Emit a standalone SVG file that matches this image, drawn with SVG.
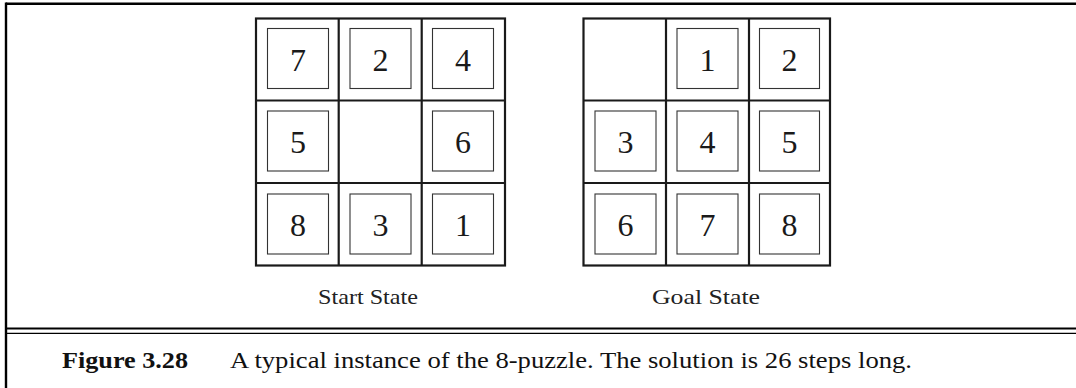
<svg xmlns="http://www.w3.org/2000/svg" width="1076" height="388" viewBox="0 0 1076 388">
<style>
.grid{fill:none;stroke:#1a1a1a;stroke-width:2.2}
.tile{fill:#fff;stroke:#333;stroke-width:1.1}
.frame{stroke:#000;fill:none}
.num{font-family:'Liberation Serif',serif;font-size:32px;fill:#1a1a1a;text-anchor:middle}
.lbl{font-family:'Liberation Serif',serif;font-size:22px;fill:#222;text-anchor:middle}
.cap{font-family:'Liberation Serif',serif;font-size:24px;fill:#111}
</style>
<rect width="1076" height="388" fill="#fff"/>
<g id="frame">
<line class="frame" x1="6" y1="3.8" x2="1076" y2="3.8" stroke-width="2.4"/>
<line class="frame" x1="6" y1="2.6" x2="6" y2="388" stroke-width="2.4"/>
<line class="frame" x1="6" y1="328.5" x2="1076" y2="328.5" stroke-width="2.2"/>
<line class="frame" x1="6" y1="333.3" x2="1076" y2="333.3" stroke-width="1.2"/>
</g>
<g id="start-state">
<rect class="grid" x="256" y="18.5" width="249" height="247"/>
<line class="grid" x1="338.7" y1="18.5" x2="338.7" y2="265.5"/>
<line class="grid" x1="421.7" y1="18.5" x2="421.7" y2="265.5"/>
<line class="grid" x1="256" y1="100.5" x2="505" y2="100.5"/>
<line class="grid" x1="256" y1="183" x2="505" y2="183"/>
<g id="s-7"><rect class="tile" x="267.5" y="28.5" width="61" height="60"/><text class="num" x="298" y="70.5">7</text></g>
<g id="s-2"><rect class="tile" x="350" y="28.5" width="61" height="60"/><text class="num" x="380.5" y="70.5">2</text></g>
<g id="s-4"><rect class="tile" x="432.5" y="28.5" width="61" height="60"/><text class="num" x="463" y="70.5">4</text></g>
<g id="s-5"><rect class="tile" x="267.5" y="111" width="61" height="60"/><text class="num" x="298" y="153">5</text></g>
<g id="s-6"><rect class="tile" x="432.5" y="111" width="61" height="60"/><text class="num" x="463" y="153">6</text></g>
<g id="s-8"><rect class="tile" x="267.5" y="194" width="61" height="60"/><text class="num" x="298" y="236">8</text></g>
<g id="s-3"><rect class="tile" x="350" y="194" width="61" height="60"/><text class="num" x="380.5" y="236">3</text></g>
<g id="s-1"><rect class="tile" x="432.5" y="194" width="61" height="60"/><text class="num" x="463" y="236">1</text></g>
<text class="lbl" x="368" y="303.5" textLength="100" lengthAdjust="spacingAndGlyphs">Start State</text>
</g>
<g id="goal-state">
<rect class="grid" x="583.5" y="18.5" width="246.5" height="247"/>
<line class="grid" x1="666" y1="18.5" x2="666" y2="265.5"/>
<line class="grid" x1="749" y1="18.5" x2="749" y2="265.5"/>
<line class="grid" x1="583.5" y1="100.5" x2="830" y2="100.5"/>
<line class="grid" x1="583.5" y1="183" x2="830" y2="183"/>
<g id="g-1"><rect class="tile" x="677" y="28.5" width="61" height="60"/><text class="num" x="707.5" y="70.5">1</text></g>
<g id="g-2"><rect class="tile" x="759.5" y="28.5" width="60" height="60"/><text class="num" x="789.5" y="70.5">2</text></g>
<g id="g-3"><rect class="tile" x="595" y="111" width="61" height="60"/><text class="num" x="625.5" y="153">3</text></g>
<g id="g-4"><rect class="tile" x="677" y="111" width="61" height="60"/><text class="num" x="707.5" y="153">4</text></g>
<g id="g-5"><rect class="tile" x="759.5" y="111" width="60" height="60"/><text class="num" x="789.5" y="153">5</text></g>
<g id="g-6"><rect class="tile" x="595" y="194" width="61" height="60"/><text class="num" x="625.5" y="236">6</text></g>
<g id="g-7"><rect class="tile" x="677" y="194" width="61" height="60"/><text class="num" x="707.5" y="236">7</text></g>
<g id="g-8"><rect class="tile" x="759.5" y="194" width="60" height="60"/><text class="num" x="789.5" y="236">8</text></g>
<text class="lbl" x="706" y="303.5" textLength="108" lengthAdjust="spacingAndGlyphs">Goal State</text>
</g>
<g id="caption">
<text class="cap" x="62" y="368" font-weight="bold" textLength="126" lengthAdjust="spacingAndGlyphs">Figure 3.28</text>
<text class="cap" x="230" y="368" textLength="682" lengthAdjust="spacingAndGlyphs">A typical instance of the 8-puzzle. The solution is 26 steps long.</text>
</g>
</svg>
